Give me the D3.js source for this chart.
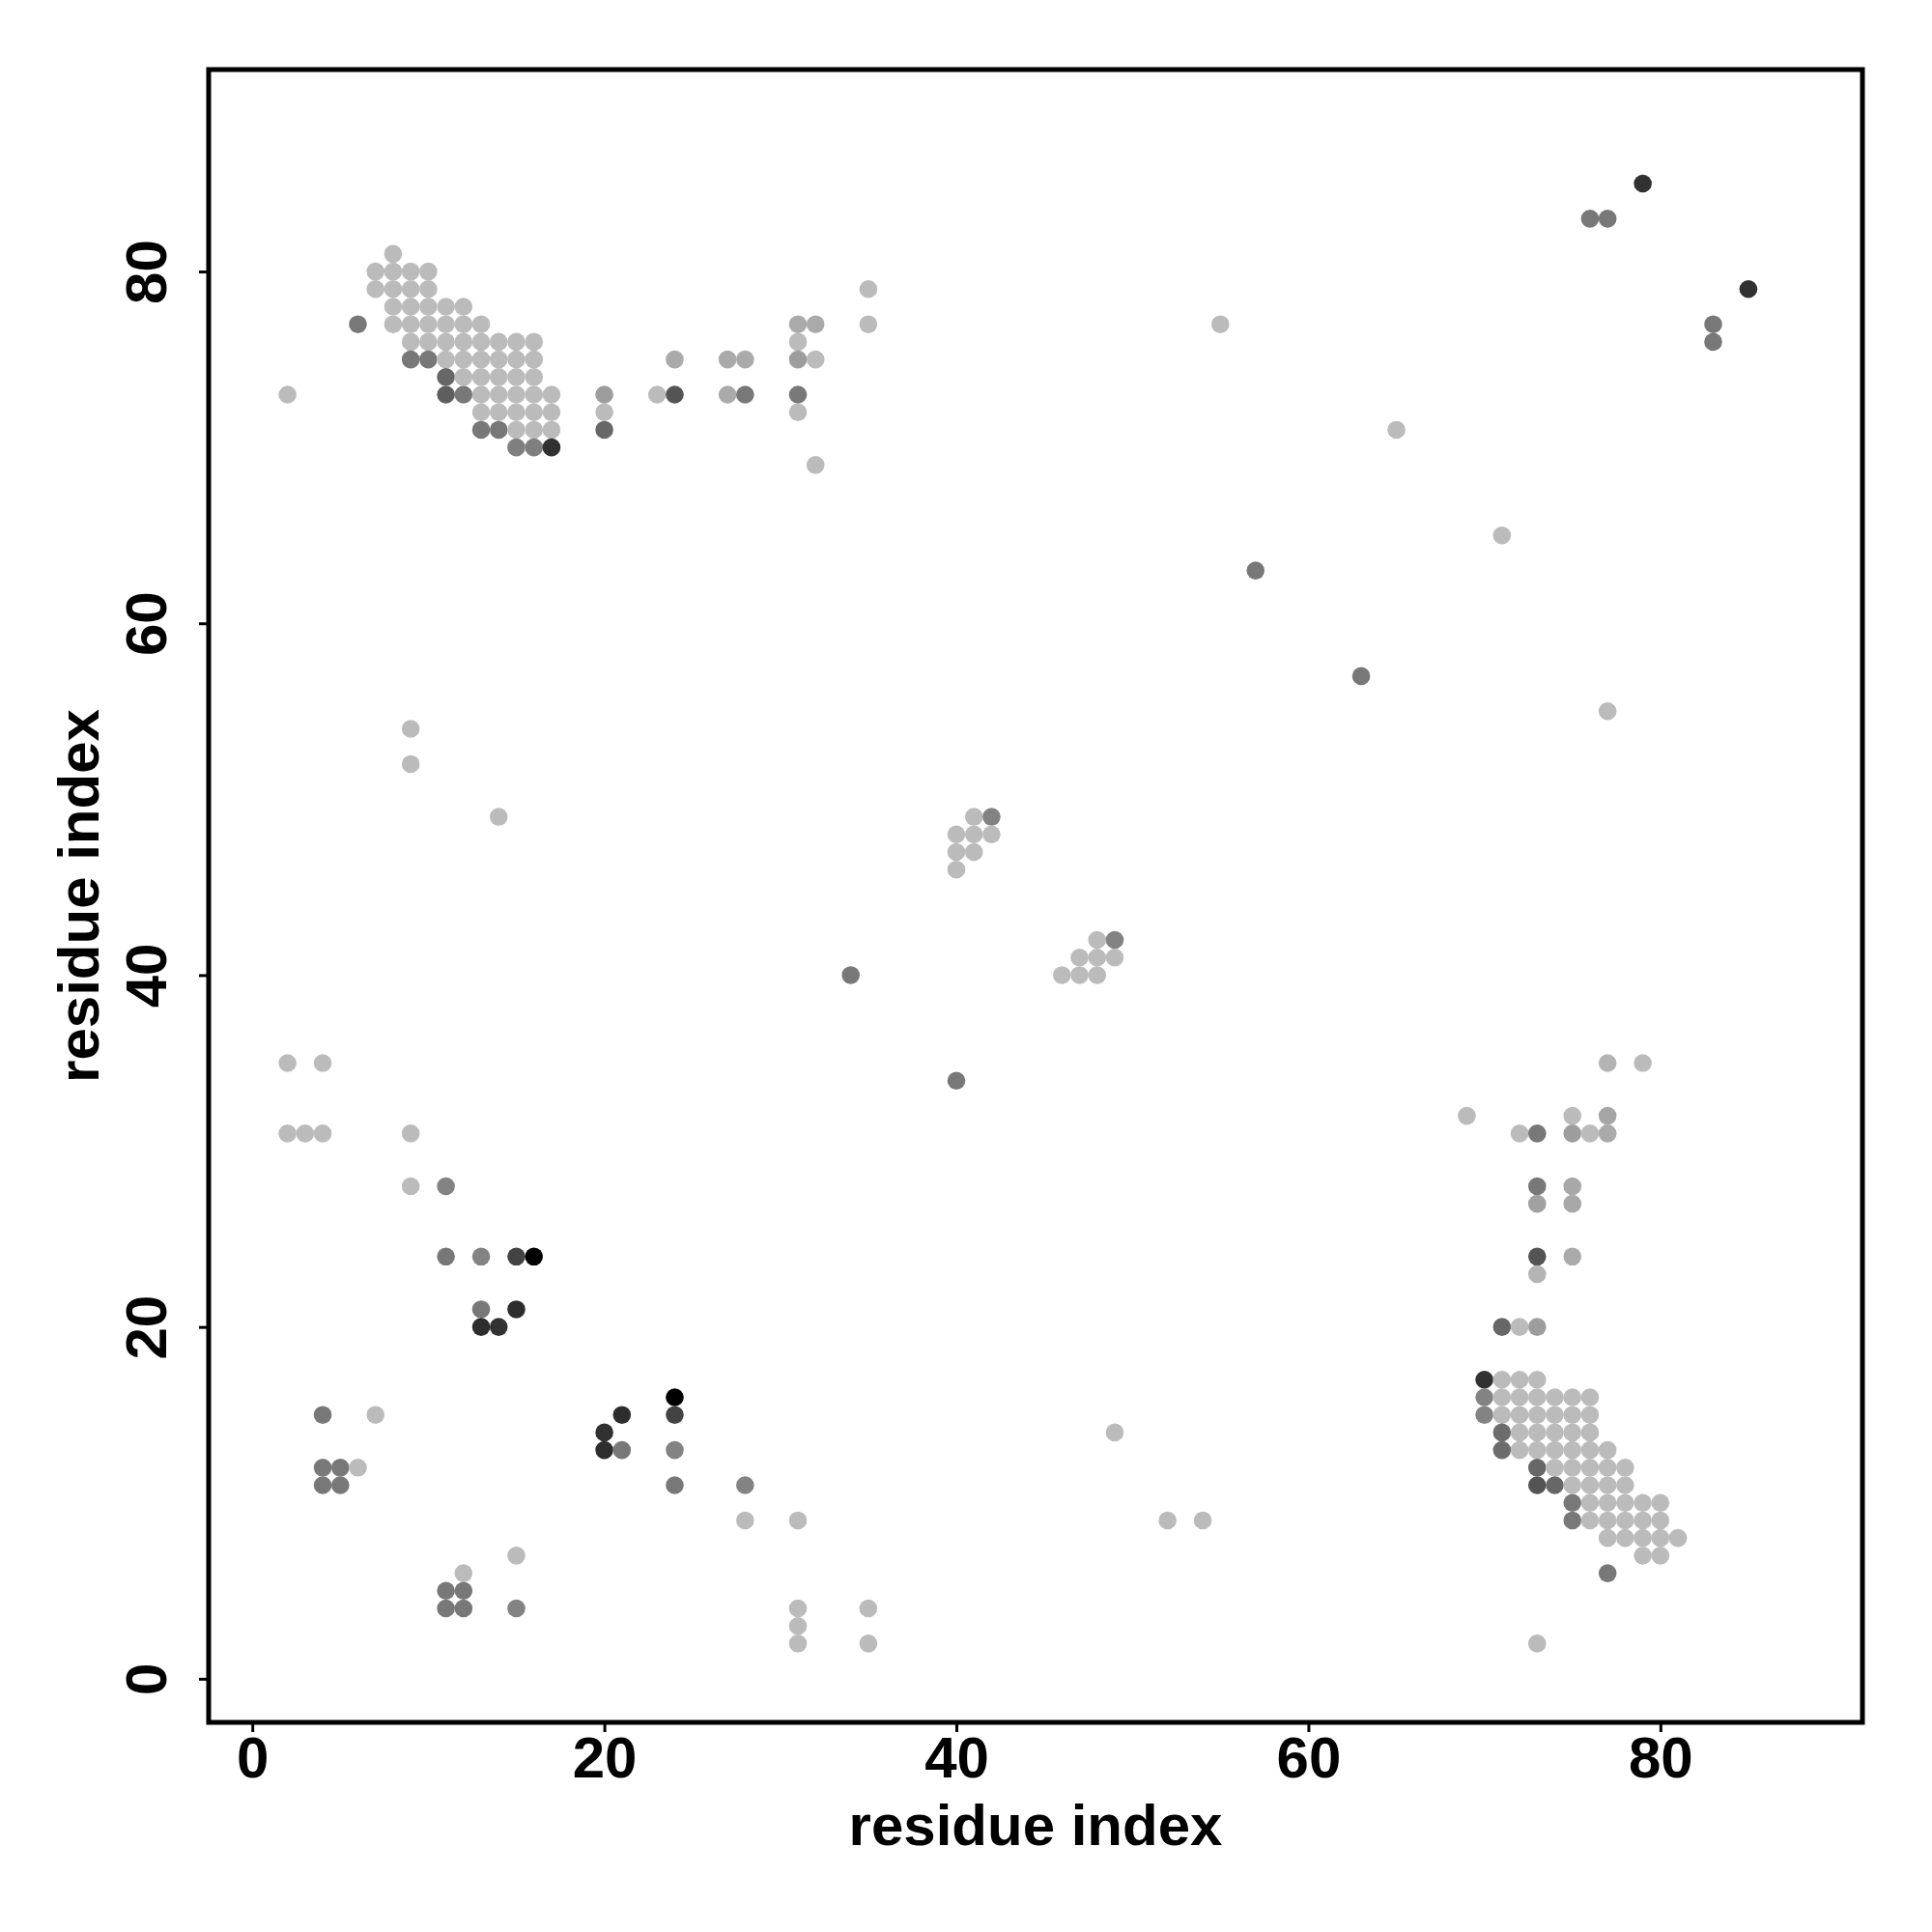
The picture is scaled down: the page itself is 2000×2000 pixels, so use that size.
<!DOCTYPE html>
<html>
<head>
<meta charset="utf-8">
<script src="https://cdn.jsdelivr.net/npm/d3@7"></script>
<style>
  html, body { margin: 0; padding: 0; background: #fff; }
  svg text { font-family: "Liberation Sans", Arial, Helvetica, sans-serif; font-weight: bold; }
</style>
</head>
<body>
<script>
// contacts: [residue i, residue j, score]  (score 0 = light grey, 1 = black)
const topLeft = [
  [8,81,0],
  [7,80,0],[8,80,0],[9,80,0],[10,80,0],
  [7,79,0],[8,79,0],[9,79,0],[10,79,0],
  [8,78,0],[9,78,0],[10,78,0],[11,78,0],[12,78,0],
  [6,77,0.36],[8,77,0],[9,77,0],[10,77,0],[11,77,0],[12,77,0],[13,77,0],
  [9,76,0],[10,76,0],[11,76,0],[12,76,0],[13,76,0],[14,76,0],[15,76,0],[16,76,0],
  [9,75,0.36],[10,75,0.36],[11,75,0],[12,75,0],[13,75,0],[14,75,0],[15,75,0],[16,75,0],
  [11,74,0.45],[12,74,0],[13,74,0],[14,74,0],[15,74,0],[16,74,0],
  [2,73,0],[11,73,0.5],[12,73,0.36],[13,73,0],[14,73,0],[15,73,0],[16,73,0],[17,73,0],
  [13,72,0],[14,72,0],[15,72,0],[16,72,0],[17,72,0],
  [13,71,0.36],[14,71,0.36],[15,71,0],[16,71,0],[17,71,0],
  [15,70,0.32],[16,70,0.32],[17,70,0.74]
];
const topMiddle = [
  [20,73,0.16],[20,72,0],[20,71,0.45],
  [23,73,0],[24,73,0.55],[24,75,0.09],
  [27,75,0.09],[28,75,0.09],[27,73,0.09],[28,73,0.36],
  [31,77,0.09],[32,77,0.09],[31,76,0],[31,75,0.16],[32,75,0],[31,73,0.36],[31,72,0],[32,69,0],
  [35,79,0],[35,77,0]
];
const scattered = [
  [9,54,0],[9,52,0],[14,49,0],
  [34,40,0.36],[40,34,0.36],
  [55,77,0],[65,71,0],[71,65,0],[57,63,0.36],[63,57,0.36],[77,55,0],
  [79,85,0.74],[76,83,0.36],[77,83,0.36],[85,79,0.74],[83,77,0.36],[83,76,0.36],
  [49,14,0],[52,9,0],[54,9,0]
];
const middle = [
  [41,49,0],[42,49,0.3],[40,48,0],[41,48,0],[42,48,0],[40,47,0],[41,47,0],[40,46,0],
  [48,42,0],[49,42,0.3],[47,41,0],[48,41,0],[49,41,0],[46,40,0],[47,40,0],[48,40,0]
];
const bottomRight = [
  [77,35,0.04],[79,35,0],[69,32,0],[72,31,0],[73,31,0.36],[75,32,0],[77,32,0.12],
  [75,31,0.16],[76,31,0],[77,31,0.09],
  [73,28,0.36],[73,27,0.14],[75,28,0.1],[75,27,0.1],[73,24,0.55],[73,23,0.04],[75,24,0.09],
  [71,20,0.45],[72,20,0],[73,20,0.16],
  [70,17,0.74],[71,17,0],[72,17,0],[73,17,0],
  [70,16,0.3],[71,16,0],[72,16,0],[73,16,0],[74,16,0],[75,16,0],[76,16,0],
  [70,15,0.3],[71,15,0],[72,15,0],[73,15,0],[74,15,0],[75,15,0],[76,15,0],
  [71,14,0.42],[72,14,0],[73,14,0],[74,14,0],[75,14,0],[76,14,0],
  [71,13,0.42],[72,13,0],[73,13,0],[74,13,0],[75,13,0],[76,13,0],[77,13,0],
  [73,12,0.45],[74,12,0],[75,12,0],[76,12,0],[77,12,0],[78,12,0],
  [73,11,0.55],[74,11,0.45],[75,11,0],[76,11,0],[77,11,0],[78,11,0],
  [75,10,0.36],[76,10,0],[77,10,0],[78,10,0],[79,10,0],[80,10,0],
  [75,9,0.36],[76,9,0],[77,9,0],[78,9,0],[79,9,0],[80,9,0],
  [77,8,0],[78,8,0],[79,8,0],[80,8,0],[81,8,0],
  [79,7,0],[80,7,0],
  [77,6,0.36],
  [73,2,0]
];
const bottomLeft = [
  [2,35,0],[4,35,0],[2,31,0],[3,31,0],[4,31,0],[9,31,0],[9,28,0],[11,28,0.3],
  [11,24,0.36],[13,24,0.3],[15,24,0.64],[16,24,1],
  [13,21,0.36],[15,21,0.76],[13,20,0.76],[14,20,0.73],
  [4,15,0.36],[7,15,0],[4,12,0.36],[5,12,0.36],[6,12,0],[4,11,0.36],[5,11,0.36],
  [15,7,0],[12,6,0],[11,5,0.36],[12,5,0.36],[11,4,0.36],[12,4,0.36],[15,4,0.3]
];
const bottomMiddle = [
  [24,16,1],[21,15,0.76],[24,15,0.64],[20,14,0.74],[20,13,0.76],[21,13,0.36],[24,13,0.3],
  [24,11,0.36],[28,11,0.3],[28,9,0],[31,9,0],
  [31,4,0],[31,3,0],[31,2,0],[35,4,0],[35,2,0]
];
const tickValues = [0, 20, 40, 60, 80];
const xLabel = "residue index";
const yLabel = "residue index";

const contacts = [].concat(topLeft, topMiddle, scattered, middle, bottomRight, bottomLeft, bottomMiddle);

const W = 2000, H = 2000;
const plot = {left: 216, right: 1928, top: 72, bottom: 1783};

const svg = d3.select("body").append("svg")
  .attr("width", W).attr("height", H)
  .attr("viewBox", `0 0 ${W} ${H}`);

svg.append("rect").attr("width", W).attr("height", H).attr("fill", "#fff");

const domain = [-2.48, 91.48];
const x = d3.scaleLinear().domain(domain).range([plot.left, plot.right]);
const y = d3.scaleLinear().domain(domain).range([plot.bottom, plot.top]);
const color = d3.scaleLinear().domain([0, 1]).range(["#bbbbbb", "#000000"]);

// points
svg.append("g").selectAll("circle").data(contacts).join("circle")
  .attr("cx", d => x(d[0]))
  .attr("cy", d => y(d[1]))
  .attr("r", 9.3)
  .attr("fill", d => color(d[2]));

// axes
const xAxis = d3.axisBottom(x).tickValues(tickValues).tickSize(10).tickPadding(0).tickFormat(d3.format("d"));
const yAxis = d3.axisLeft(y).tickValues(tickValues).tickSize(10).tickPadding(0).tickFormat(d3.format("d"));

const gx = svg.append("g").attr("transform", `translate(0,${plot.bottom})`).call(xAxis);
gx.select(".domain").remove();
gx.selectAll(".tick line").attr("stroke", "#000").attr("stroke-width", 3);
gx.selectAll(".tick text")
  .attr("y", 57).attr("dy", null)
  .attr("font-size", 60).attr("fill", "#000")
  .attr("text-anchor", "middle");

const gy = svg.append("g").attr("transform", `translate(${plot.left},0)`).call(yAxis);
gy.select(".domain").remove();
gy.selectAll(".tick line").attr("stroke", "#000").attr("stroke-width", 3);
gy.selectAll(".tick text")
  .attr("x", null).attr("dy", null)
  .attr("transform", "translate(-44,0) rotate(-90)")
  .attr("font-size", 60).attr("fill", "#000")
  .attr("text-anchor", "middle");

// frame
svg.append("rect")
  .attr("x", plot.left).attr("y", plot.top)
  .attr("width", plot.right - plot.left).attr("height", plot.bottom - plot.top)
  .attr("fill", "none").attr("stroke", "#000").attr("stroke-width", 5);

// axis titles
svg.append("text")
  .attr("x", (plot.left + plot.right) / 2).attr("y", 1910)
  .attr("text-anchor", "middle").attr("font-size", 60).attr("fill", "#000")
  .text(xLabel);

svg.append("text")
  .attr("transform", `translate(102,${(plot.top + plot.bottom) / 2}) rotate(-90)`)
  .attr("text-anchor", "middle").attr("font-size", 60).attr("fill", "#000")
  .text(yLabel);
</script>
</body>
</html>
